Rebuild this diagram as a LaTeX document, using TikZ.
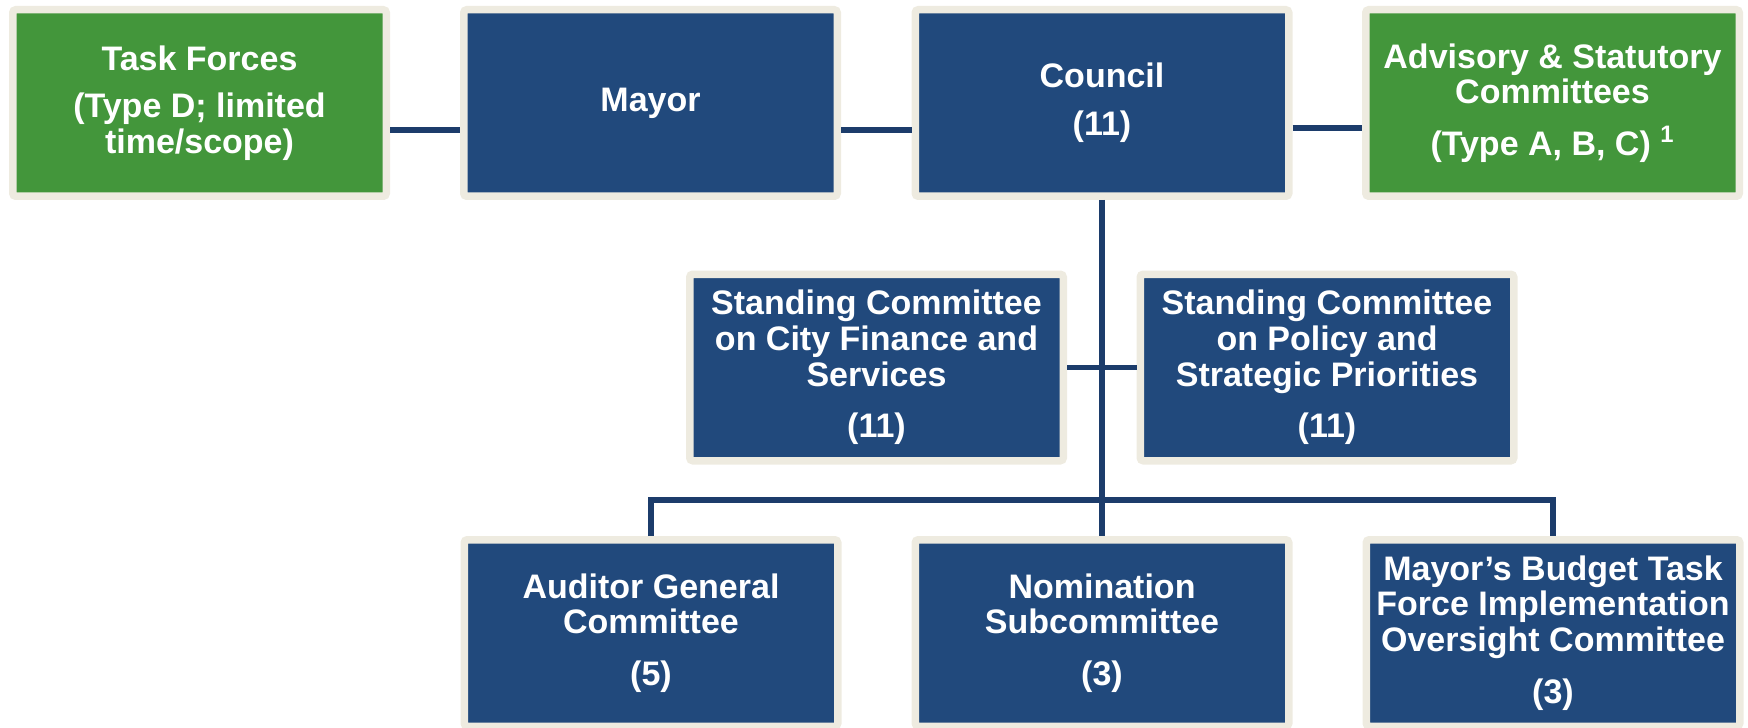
\documentclass[tikz,border=0pt]{standalone}
\usepackage{fontspec}
\setmainfont{Liberation Sans}
\usetikzlibrary{shadows}

\definecolor{navyfill}{HTML}{21497C}
\definecolor{grassfill}{HTML}{43963B}
\definecolor{framecol}{HTML}{EEEBE0}
\definecolor{linkcol}{HTML}{1C3C6B}
\newcommand{\boxfont}{\bfseries\fontsize{17}{17.8}\selectfont}

\begin{document}
\begin{tikzpicture}[
                x = 0.5pt, y = -0.5pt,
                box/.style = {draw = framecol, line width = 3.75pt, rounded corners = 1.5pt,
                    minimum width = 186.75pt, minimum height = 93.25pt, inner sep = 0pt,
                    align = center, text = white, font = \boxfont,
                    drop shadow = {shadow xshift = 0.4pt, shadow yshift = -1.6pt, opacity = 0.25, fill = black!70}},
                navy/.style = {box, fill = navyfill},
                grass/.style = {box, fill = grassfill},
                link/.style = {draw = linkcol, line width = 2.8pt},
            ]
            \useasboundingbox (0,0) rectangle (1748,727);

            % top row
            \node (task) [grass] at (199.5,103) {Task Forces\\[6pt](Type D; limited\\time/scope)};
            \node (mayor) [navy] at (650.5,103) {Mayor};
            \node (council) [navy] at (1102,103) {Council\\[6pt](11)};
            \node (advisory) [grass] at (1552.5,103) {Advisory \& Statutory\\Committees\\[8pt](Type A, B, C) \textsuperscript{1}};

            % standing committees
            \node (finance) [navy] at (876.5,367.5) {Standing Committee\\on City Finance and\\Services\\[8pt](11)};
            \node (policy) [navy] at (1327,367.5) {Standing Committee\\on Policy and\\Strategic Priorities\\[8pt](11)};

            % bottom row
            \node (auditor) [navy] at (651,633) {Auditor General\\Committee\\[8pt](5)};
            \node (nomination) [navy] at (1102,633) {Nomination\\Subcommittee\\[8pt](3)};
            \node (budget) [navy] at (1553,633) {Mayor’s Budget Task\\Force Implementation\\Oversight Committee\\[8pt](3)};

            \coordinate (bus) at (1102,500);

            \path[link] ([yshift=-13.5pt]task.east) -- ([yshift=-13.5pt]mayor.west);
            \path[link] ([yshift=-13.5pt]mayor.east) -- ([yshift=-13.5pt]council.west);
            \path[link] ([yshift=-12.5pt]council.east) -- ([yshift=-12.5pt]advisory.west);

            \path[link] (council.south) -- (nomination.north);
            \path[link] (finance.east) -- (policy.west);

            \path[link] (auditor.north) -- (auditor.north |- bus) -- (budget.north |- bus) -- (budget.north);
        \end{tikzpicture}
\end{document}
